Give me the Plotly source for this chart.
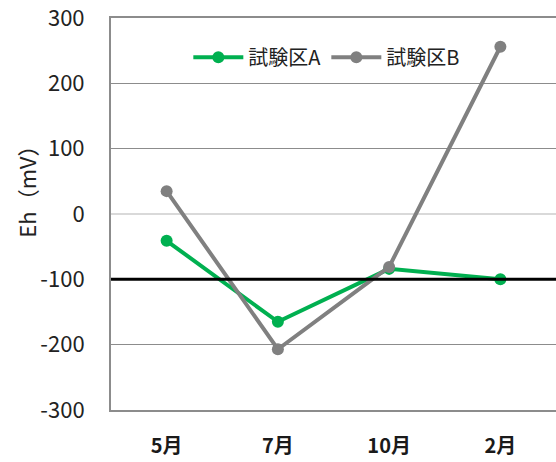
import plotly.graph_objects as go

months = ["5月", "7月", "10月", "2月"]
series_a = [-41, -165, -84, -100]
series_b = [35, -207, -81, 256]
name_a = "試験区A"
name_b = "試験区B"
ref_line = -100
y_ticks = [-300, -200, -100, 0, 100, 200, 300]
y_tick_text = ["-300", "-200", "-100", "0", "100", "200", "300"]
y_title = "Eh（mV）"

font_family = "Noto Sans CJK JP"

fig = go.Figure()
fig.add_trace(go.Scatter(x=months, y=series_a, name=name_a, mode="lines+markers",
                         line=dict(color="#00B050", width=4),
                         marker=dict(color="#00B050", size=12)))
fig.add_trace(go.Scatter(x=months, y=series_b, name=name_b, mode="lines+markers",
                         line=dict(color="#808080", width=4),
                         marker=dict(color="#808080", size=12)))

fig.add_hline(y=ref_line, line=dict(color="black", width=3), layer="above")

fig.add_annotation(text=y_title, textangle=-90, xref="paper", yref="paper",
                   x=-0.193, y=0.57, xanchor="center", yanchor="middle",
                   showarrow=False, font=dict(size=22, color="#222"))

fig.update_layout(
    width=556, height=462,
    margin=dict(l=111, r=0, t=18, b=52),
    paper_bgcolor="white", plot_bgcolor="white",
    font=dict(family=font_family, size=18, color="#222"),
    showlegend=True,
    legend=dict(orientation="h", x=0.485, xanchor="center", y=0.9, yanchor="middle",
                bgcolor="rgba(255,255,255,0)", font=dict(size=20, color="#222"),
                itemwidth=50, tracegroupgap=0),
    xaxis=dict(type="category", range=[-0.5, 3.5], showgrid=False,
               showline=True, linecolor="#8c8c8c", linewidth=2, mirror=True,
               ticks="", tickfont=dict(size=20, color="#1a1a1a", weight="bold"),
               ticklabelstandoff=17, zeroline=False),
    yaxis=dict(range=[-300, 300], tickvals=y_ticks, ticktext=y_tick_text,
               showgrid=True, gridcolor="#8c8c8c",
               gridwidth=1, zeroline=True, zerolinecolor="#d9d9d9", zerolinewidth=2,
               showline=True, linecolor="#8c8c8c", linewidth=2,
               ticks="", tickfont=dict(size=22, color="#222"), ticklabelstandoff=20,
               ticklabeloverflow="allow"),
)

fig.write_html("out.html")
